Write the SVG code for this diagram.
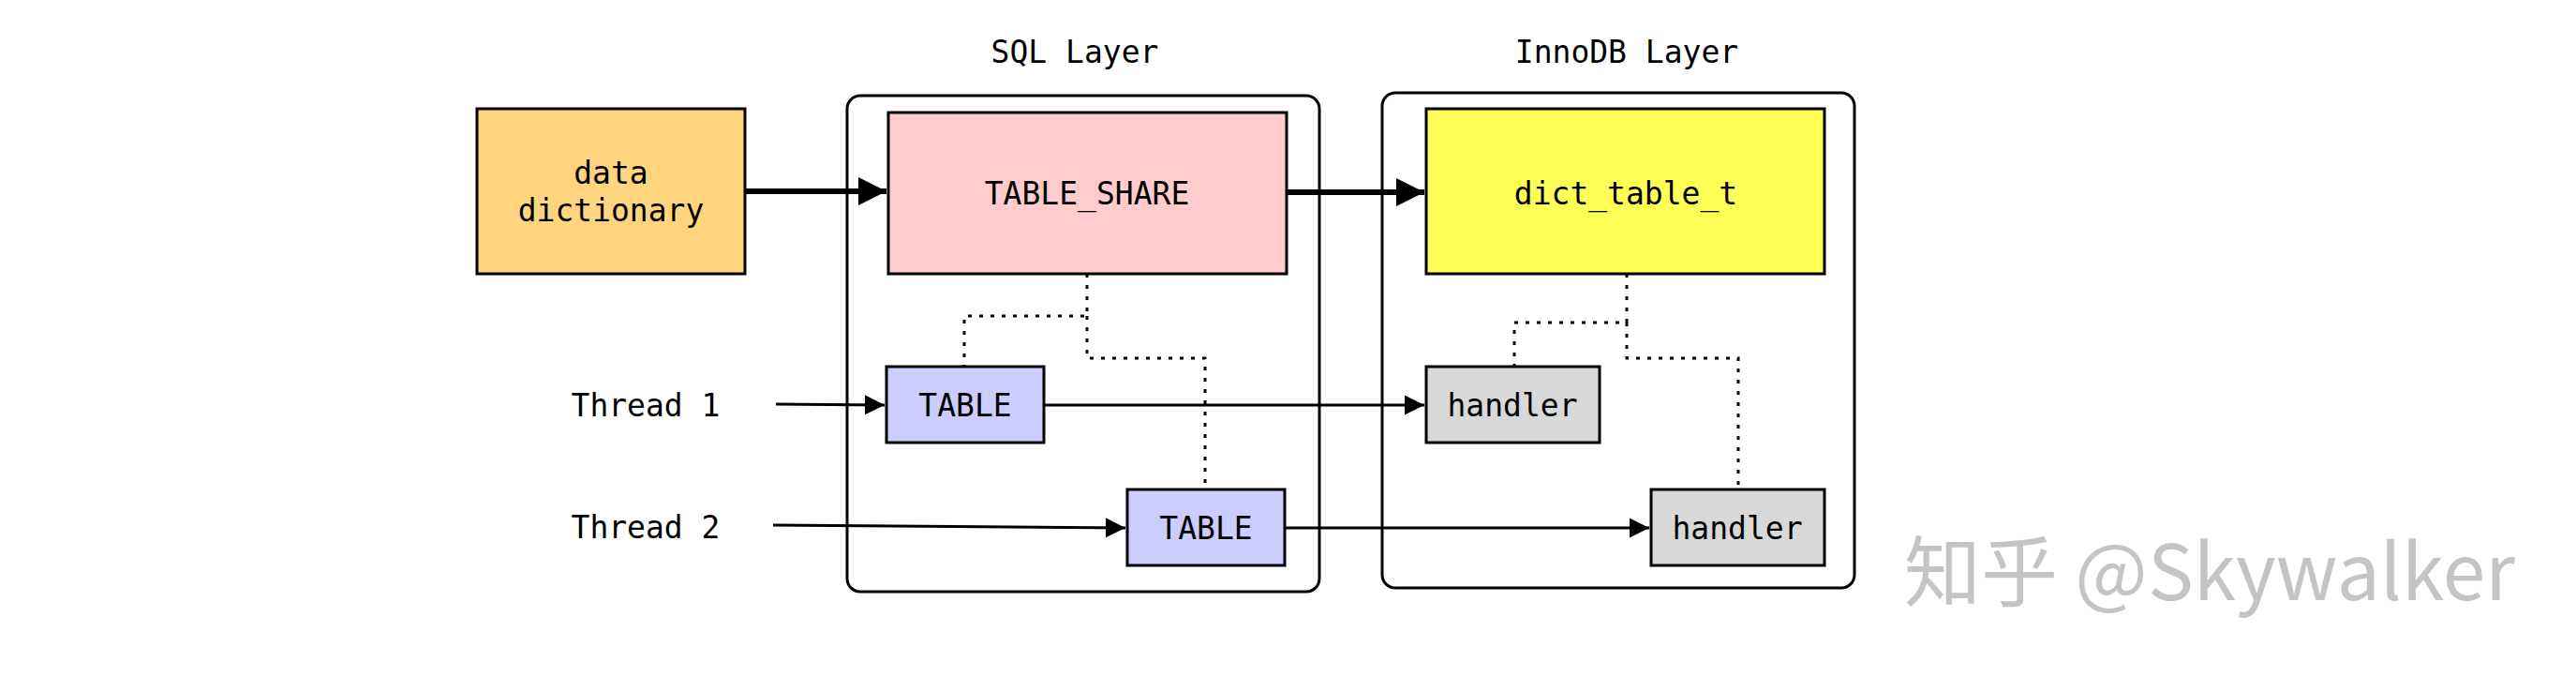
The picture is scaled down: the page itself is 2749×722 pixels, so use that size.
<svg xmlns="http://www.w3.org/2000/svg" width="2749" height="722" viewBox="0 0 2749 722">
<defs>
<style>
text{font-family:"DejaVu Sans Mono","Liberation Mono",monospace;font-size:33px;fill:#000;text-anchor:middle;dominant-baseline:central}
.n{stroke:#000;stroke-width:3}
.c{fill:none;stroke:#000;stroke-width:3}
.t{fill:none;stroke:#000;stroke-width:6}
.d{fill:none;stroke:#000;stroke-width:3;stroke-dasharray:4 8}
.wm{font-family:"Noto Sans CJK SC","DejaVu Sans",sans-serif;font-size:82px;fill:#c4c4c4;text-anchor:start}
</style>
<marker id="a" viewBox="0 0 10 10" refX="10" refY="5" markerWidth="7" markerHeight="7" markerUnits="strokeWidth" orient="auto"><path d="M0,0L10,5L0,10z"/></marker>
<marker id="b" viewBox="0 0 10 10" refX="10" refY="5" markerWidth="6" markerHeight="5" markerUnits="strokeWidth" orient="auto"><path d="M0,0L10,5L0,10z"/></marker>
</defs>
<rect width="2749" height="722" fill="#fff"/>
<g id="sql-layer"><rect x="904" y="102" width="504" height="529" rx="14" fill="none" class="n"/><text x="1147" y="55">SQL Layer</text></g>
<g id="innodb-layer"><rect x="1475" y="99" width="504" height="528" rx="14" fill="none" class="n"/><text x="1736" y="55">InnoDB Layer</text></g>
<g id="connectors">
<path class="t" d="M795,204H946" marker-end="url(#b)"/>
<path class="t" d="M1373,205H1520" marker-end="url(#b)"/>
<path class="c" d="M828,431L944,432" marker-end="url(#a)"/>
<path class="c" d="M825,560L1201,563" marker-end="url(#a)"/>
<path class="c" d="M1114,432H1520" marker-end="url(#a)"/>
<path class="c" d="M1371,563H1760" marker-end="url(#a)"/>
<path class="d" d="M1160,292V337H1029V391M1160,337V382H1286V522"/>
<path class="d" d="M1736,292V344H1616V391M1736,344V382H1855V522"/>
</g>
<g id="data-dictionary"><rect x="509" y="116" width="286" height="176" fill="#fed47e" class="n"/><text x="652" y="184">data</text><text x="652" y="224">dictionary</text></g>
<g id="table-share"><rect x="948" y="120" width="425" height="172" fill="#fecccc" class="n"/><text x="1160" y="206">TABLE_SHARE</text></g>
<g id="dict-table-t"><rect x="1522" y="116" width="425" height="176" fill="#fefe55" class="n"/><text x="1735" y="206">dict_table_t</text></g>
<g id="table1"><rect x="946" y="391" width="168" height="81" fill="#ccccfe" class="n"/><text x="1030" y="432">TABLE</text></g>
<g id="table2"><rect x="1203" y="522" width="168" height="81" fill="#ccccfe" class="n"/><text x="1287" y="563">TABLE</text></g>
<g id="handler1"><rect x="1522" y="391" width="185" height="81" fill="#d8d8d8" class="n"/><text x="1614" y="432">handler</text></g>
<g id="handler2"><rect x="1762" y="522" width="185" height="81" fill="#d8d8d8" class="n"/><text x="1854" y="563">handler</text></g>
<g id="thread1"><text x="689" y="432">Thread 1</text></g>
<g id="thread2"><text x="689" y="562">Thread 2</text></g>
<text class="wm" x="2032" y="604" dominant-baseline="auto">知乎 @Skywalker</text>
</svg>
